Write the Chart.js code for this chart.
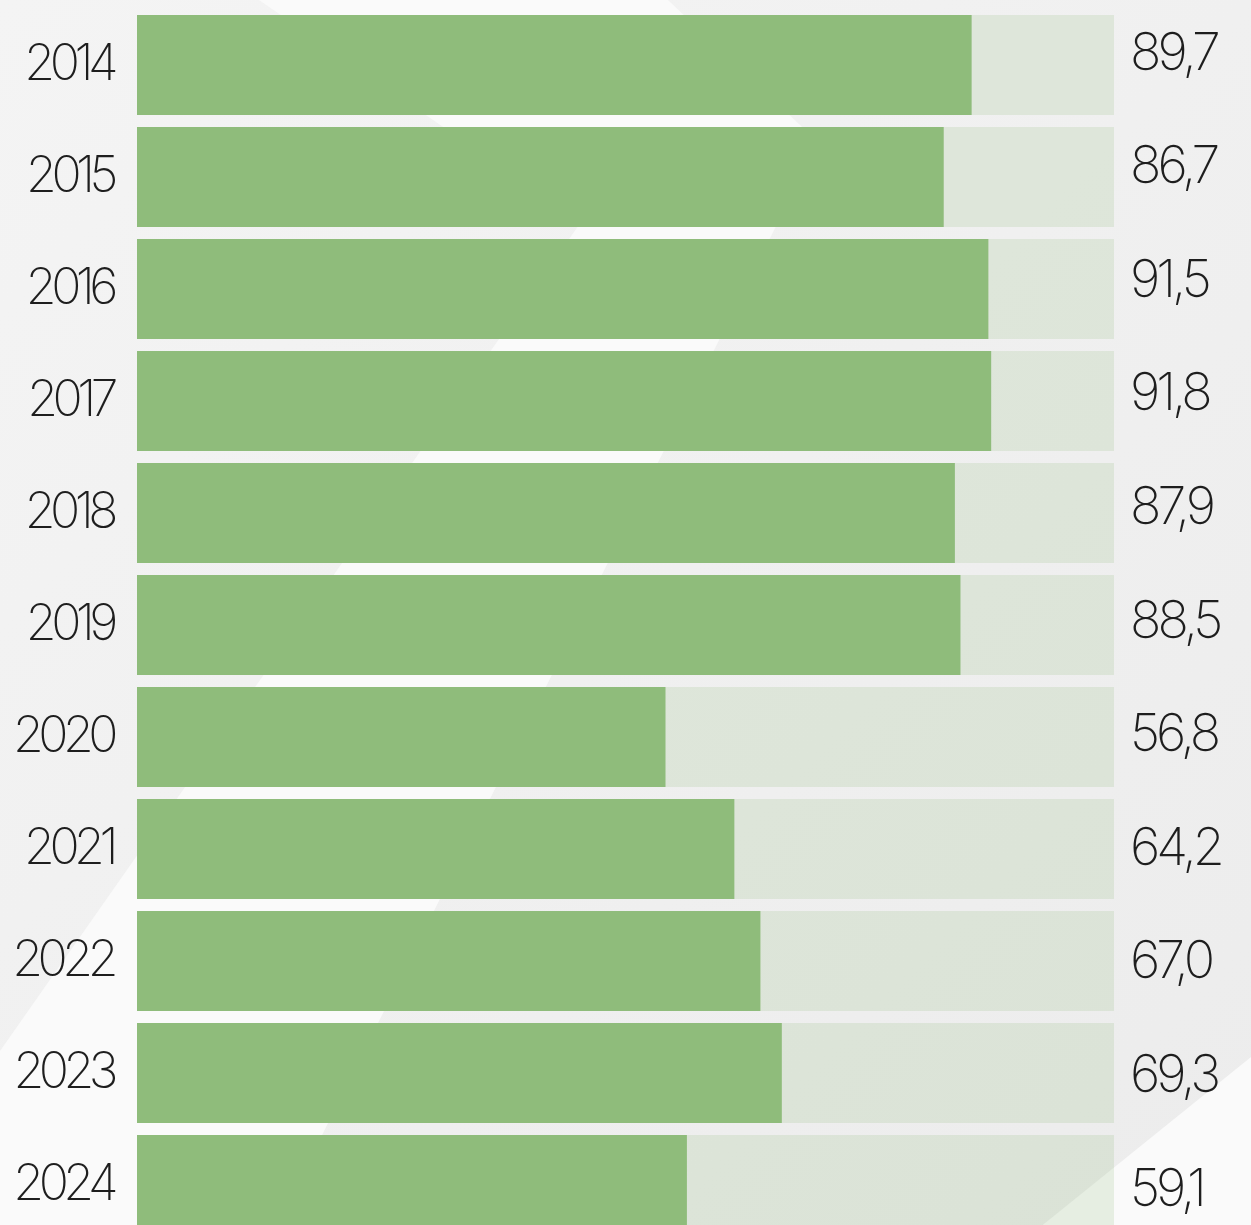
<!DOCTYPE html>
<html>
<head>
<meta charset="utf-8">
<script src="https://cdn.jsdelivr.net/npm/chart.js@4.4.1/dist/chart.umd.min.js"></script>
<style>
  html, body { margin: 0; padding: 0; overflow: hidden; background: #f1f1f1; }
  canvas { display: block; }
</style>
</head>
<body>
<canvas id="rateBars" width="1251" height="1250"></canvas>
<script>
const years = ['2014', '2015', '2016', '2017', '2018', '2019', '2020', '2021', '2022', '2023', '2024'];
const rates = [89.7, 86.7, 91.5, 91.8, 87.9, 88.5, 56.8, 64.2, 67.0, 69.3, 59.1];
const scaleMax = 105;
const track = years.map(() => scaleMax);

const FONT = 'Inter, "Open Sans", sans-serif';
const YEAR_TRACKING = '-5.5px';
const VALUE_TRACKING = '-4px';

// grey backdrop with the white chevron band and the lighter bottom-right corner
const backdrop = {
  id: 'backdrop',
  beforeDraw(chart) {
    const { ctx, width, height } = chart;
    ctx.save();
    const g = ctx.createLinearGradient(0, 0, width, height);
    g.addColorStop(0, '#f4f4f4');
    g.addColorStop(1, '#ececec');
    ctx.fillStyle = g;
    ctx.fillRect(0, 0, width, height);

    ctx.fillStyle = '#fafafa';
    ctx.beginPath();
    ctx.moveTo(259, 0);
    ctx.lineTo(668, 0);
    ctx.lineTo(818, 142);
    ctx.lineTo(0, 1780);
    ctx.lineTo(0, 1051);
    ctx.lineTo(581, 222);
    ctx.closePath();
    ctx.fill();

    ctx.beginPath();
    ctx.moveTo(width, 1057);
    ctx.lineTo(width, height);
    ctx.lineTo(1251 - 1.24 * (height - 1057), height);
    ctx.closePath();
    ctx.fill();
    ctx.restore();

    // year ticks are drawn after this with the tighter tracking
    ctx.letterSpacing = YEAR_TRACKING;
  }
};

// value text to the right of each track
const valueText = {
  id: 'valueText',
  afterDatasetsDraw(chart) {
    const { ctx, chartArea } = chart;
    const meta = chart.getDatasetMeta(0);
    ctx.save();
    ctx.letterSpacing = VALUE_TRACKING;
    ctx.font = '200 52px ' + FONT;
    ctx.fillStyle = '#1e1e1e';
    ctx.textAlign = 'left';
    ctx.textBaseline = 'middle';
    meta.data.forEach((bar, i) => {
      const label = rates[i].toFixed(1).replace('.', ',');
      ctx.fillText(label, chartArea.right + 16, bar.y - 11 + 1.6 * i);
    });
    ctx.restore();
  }
};

new Chart(document.getElementById('rateBars'), {
  type: 'bar',
  data: {
    labels: years,
    datasets: [
      {
        data: rates,
        backgroundColor: '#8fbc7b',
        grouped: false,
        barPercentage: 1,
        categoryPercentage: 100 / 112,
        order: 0
      },
      {
        data: track,
        backgroundColor: 'rgba(143, 188, 124, 0.19)',
        grouped: false,
        barPercentage: 1,
        categoryPercentage: 100 / 112,
        order: 1
      }
    ]
  },
  options: {
    indexAxis: 'y',
    responsive: false,
    animation: false,
    events: [],
    layout: { padding: { top: 9, right: 137, bottom: 9, left: 0 } },
    plugins: {
      legend: { display: false },
      tooltip: { enabled: false }
    },
    scales: {
      x: {
        display: false,
        min: 0,
        max: scaleMax
      },
      y: {
        grid: { display: false, drawTicks: false },
        border: { display: false },
        ticks: {
          padding: 24,
          color: '#1e1e1e',
          font: { family: FONT, size: 50, weight: 200 }
        },
        afterFit(scale) {
          scale.width = 137;
          scale.paddingTop = 0;
          scale.paddingBottom = 0;
        }
      }
    }
  },
  plugins: [backdrop, valueText]
});
</script>
</body>
</html>
